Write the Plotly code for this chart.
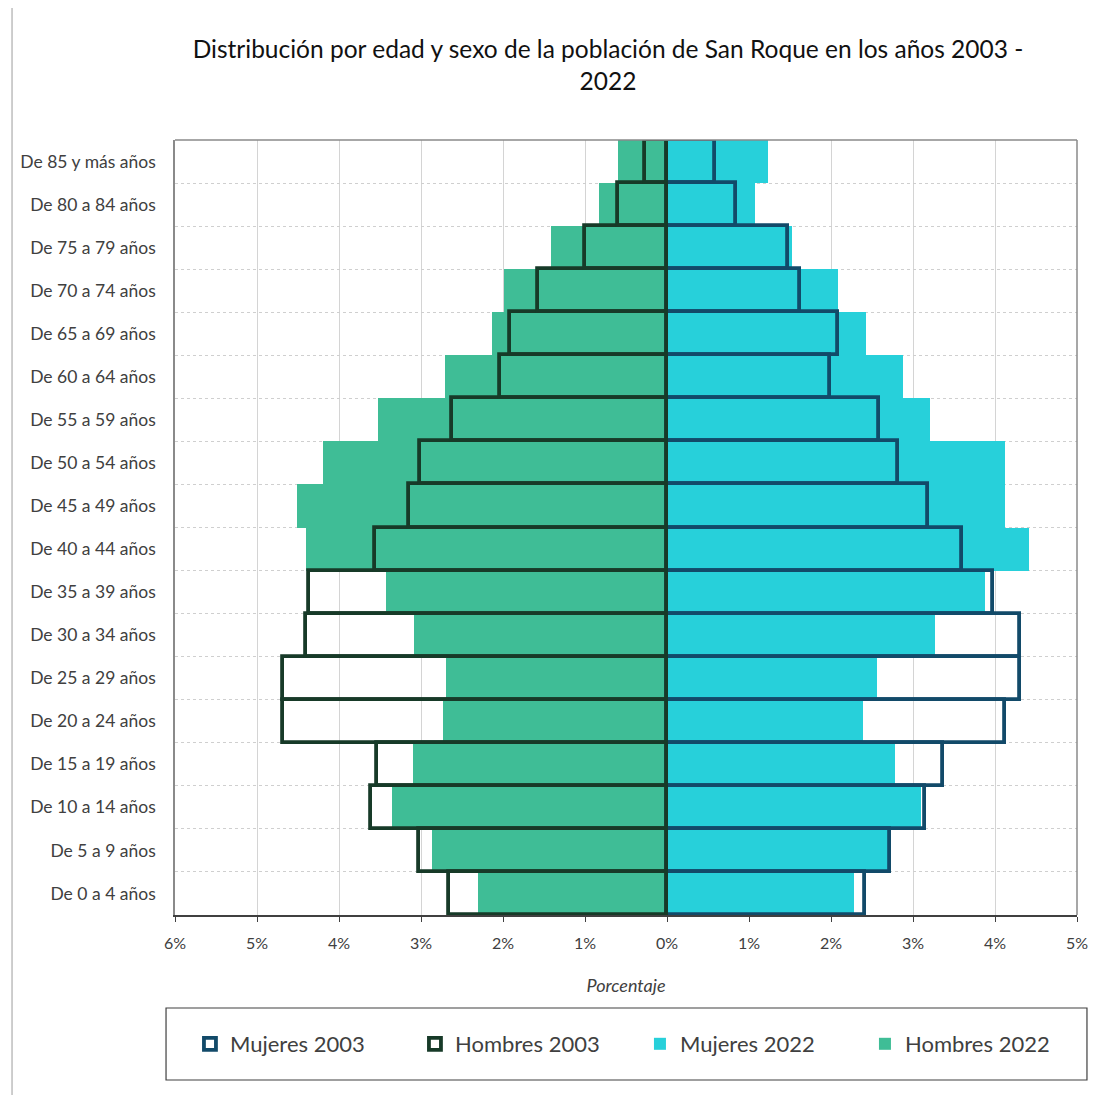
import plotly.graph_objects as go

categorias = ["De 0 a 4 años", "De 5 a 9 años", "De 10 a 14 años", "De 15 a 19 años",
              "De 20 a 24 años", "De 25 a 29 años", "De 30 a 34 años", "De 35 a 39 años",
              "De 40 a 44 años", "De 45 a 49 años", "De 50 a 54 años", "De 55 a 59 años",
              "De 60 a 64 años", "De 65 a 69 años", "De 70 a 74 años", "De 75 a 79 años",
              "De 80 a 84 años", "De 85 y más años"]

hombres_2022 = [2.30, 2.87, 3.35, 3.10, 2.73, 2.70, 3.09, 3.43, 4.40, 4.51, 4.20, 3.52,
                2.71, 2.13, 1.99, 1.42, 0.83, 0.60]
hombres_2003 = [2.66, 3.03, 3.61, 3.54, 4.68, 4.68, 4.40, 4.37, 3.56, 3.15, 3.01, 2.62,
                2.04, 1.91, 1.57, 1.00, 0.60, 0.27]
mujeres_2022 = [2.28, 2.69, 3.10, 2.78, 2.39, 2.56, 3.27, 3.88, 4.42, 4.12, 4.12, 3.21,
                2.88, 2.43, 2.08, 1.52, 1.07, 1.23]
mujeres_2003 = [2.41, 2.72, 3.15, 3.37, 4.12, 4.31, 4.30, 3.97, 3.60, 3.18, 2.82, 2.59,
                1.99, 2.08, 1.62, 1.47, 0.84, 0.58]

tick_vals = [-6, -5, -4, -3, -2, -1, 0, 1, 2, 3, 4, 5]
tick_text = ["6%", "5%", "4%", "3%", "2%", "1%", "0%", "1%", "2%", "3%", "4%", "5%"]

FONT = "Lato"
col_muj22 = "#27d0da"
col_hom22 = "#3fbd96"
col_muj03 = "#124a69"
col_hom03 = "#173a28"

fig = go.Figure()
fig.add_trace(go.Bar(y=categorias, x=mujeres_2022, orientation="h", name="Mujeres 2022",
                     marker=dict(color=col_muj22, line=dict(width=0)), legendrank=3))
fig.add_trace(go.Bar(y=categorias, x=[-v for v in hombres_2022], orientation="h", name="Hombres 2022",
                     marker=dict(color=col_hom22, line=dict(width=0)), legendrank=4))
fig.add_trace(go.Bar(y=categorias, x=mujeres_2003, orientation="h", name="Mujeres 2003",
                     marker=dict(color="rgba(255,255,255,0)", line=dict(color=col_muj03, width=3.8)),
                     legendrank=1))
fig.add_trace(go.Bar(y=categorias, x=[-v for v in hombres_2003], orientation="h", name="Hombres 2003",
                     marker=dict(color="rgba(255,255,255,0)", line=dict(color=col_hom03, width=3.8)),
                     legendrank=2))

# page body has an 8px margin; figure is sized to fit the window
OFF = 8
W, H = 1112, 1087
L, R, T, B = 164, 43, 132, 180
pw, ph = W - L - R, H - T - B

def px_x(page_x):
    return (page_x - OFF - L) / pw

def px_y(page_y):
    return (H - B - (page_y - OFF)) / ph

fig.update_layout(
    width=W, height=H,
    margin=dict(l=L, r=R, t=T, b=B),
    paper_bgcolor="white", plot_bgcolor="white",
    barmode="overlay", bargap=0,
    font=dict(family=FONT, color="#404040", size=16),
    title=dict(text="Distribución por edad y sexo de la población de San Roque en los años 2003 -<br>2022",
               x=(608 - OFF) / W, xanchor="center", xref="container",
               y=1 - 50 / H, yanchor="top", yref="container",
               font=dict(family=FONT, size=24.5, color="#111111")),
    xaxis=dict(range=[-6, 5], tickvals=tick_vals, ticktext=tick_text,
               showgrid=True, gridcolor="#d4d4d4", gridwidth=1,
               zeroline=False, showline=True, linecolor="#404040", linewidth=1.5,
               mirror=False, ticks="outside", ticklen=5, tickcolor="#404040",
               ticklabelstandoff=8,
               tickfont=dict(size=16, color="#404040"),
               title=dict(text="<i>Porcentaje</i>", font=dict(size=18, color="#404040"), standoff=28)),
    yaxis=dict(type="category", categoryorder="array", categoryarray=categorias,
               tickson="boundaries", showgrid=True, gridcolor="#cfcfcf", griddash="dot",
               showline=True, linecolor="#8a8a8a", linewidth=1.5, mirror=False,
               ticks="", ticklabelstandoff=14,
               tickfont=dict(size=17.5, color="#404040")),
    showlegend=True,
    legend=dict(orientation="h", x=0.5 + 14 / pw, xanchor="center", y=px_y(1044), yanchor="middle",
                entrywidth=180, entrywidthmode="pixels", traceorder="normal",
                font=dict(size=22, color="#404040"), bgcolor="rgba(0,0,0,0)"),
    shapes=[
        dict(type="rect", xref="paper", yref="paper",
             x0=px_x(163), x1=px_x(1087), y0=px_y(1080), y1=px_y(1008),
             line=dict(color="#404040", width=1.2), fillcolor="rgba(0,0,0,0)", layer="below"),
        dict(type="line", xref="paper", yref="paper", x0=1, x1=1, y0=0, y1=1,
             line=dict(color="#8a8a8a", width=1.5)),
        dict(type="line", xref="paper", yref="paper", x0=0, x1=1, y0=1, y1=1,
             line=dict(color="#8a8a8a", width=1.5)),
        dict(type="line", xref="paper", yref="paper",
             x0=px_x(8.5), x1=px_x(8.5), y0=px_y(1095), y1=px_y(8),
             line=dict(color="#bdbdbd", width=1.5)),
    ],
)

fig.write_html("out.html")
